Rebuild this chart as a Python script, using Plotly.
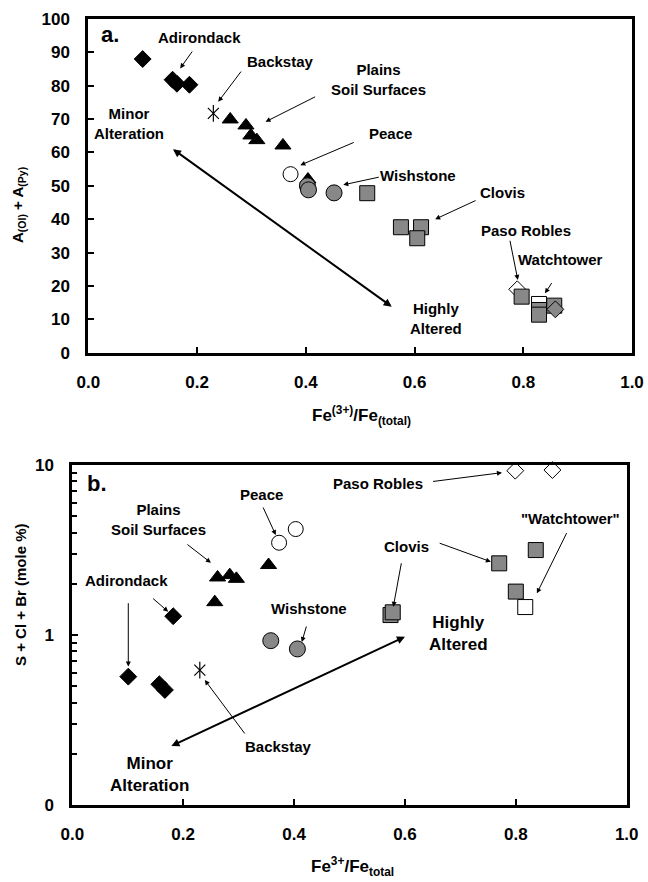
import plotly.graph_objects as go

FONT = "Liberation Sans, Arial, Helvetica, sans-serif"
GRAY = "#888888"

# ---------------- Panel a data: A(Ol)+A(Py) vs Fe3+/Fe_total ----------------
adk_a_x = [0.100, 0.155, 0.163, 0.186]
adk_a_y = [88.0, 81.8, 80.6, 80.3]
backstay_a_x = [0.230]
backstay_a_y = [71.7]
plains_a_x = [0.261, 0.290, 0.299, 0.310, 0.358, 0.404]
plains_a_y = [69.9, 68.1, 65.1, 63.7, 62.1, 51.9]
peace_a_x = [0.372]
peace_a_y = [53.5]
wish_a_x = [0.403, 0.405, 0.452]
wish_a_y = [50.0, 48.8, 47.9]
clovis_a_x = [0.513, 0.575, 0.612, 0.605]
clovis_a_y = [47.8, 37.6, 37.6, 34.3]
paso_a_x = [0.789]
paso_a_y = [19.0]
wt_white_a_x = [0.829]
wt_white_a_y = [14.6]
wt_gray_a_x = [0.797, 0.829, 0.829, 0.857]
wt_gray_a_y = [16.8, 12.8, 11.4, 14.1]
wt_dia_a_x = [0.859]
wt_dia_a_y = [13.0]

# ---------------- Panel b data: S+Cl+Br vs Fe3+/Fe_total ----------------
adk_b_x = [0.101, 0.157, 0.167, 0.182]
adk_b_y = [0.569, 0.513, 0.475, 1.29]
backstay_b_x = [0.230]
backstay_b_y = [0.622]
plains_b_x = [0.257, 0.262, 0.284, 0.296, 0.354]
plains_b_y = [1.56, 2.18, 2.25, 2.14, 2.58]
peace_b_x = [0.373, 0.403]
peace_b_y = [3.49, 4.20]
wish_b_x = [0.358, 0.406]
wish_b_y = [0.926, 0.828]
clovis_b_x = [0.574, 0.578, 0.770, 0.800, 0.836]
clovis_b_y = [1.31, 1.36, 2.64, 1.80, 3.16]
wt_white_b_x = [0.817]
wt_white_b_y = [1.46]
paso_b_x = [0.799, 0.866]
paso_b_y = [9.26, 9.34]

x_ticks = [0.0, 0.2, 0.4, 0.6, 0.8, 1.0]
ya_ticks = [0, 10, 20, 30, 40, 50, 60, 70, 80, 90, 100]
yb_ticks = [0.1, 1, 10]
yb_ticktext = ["0", "1", "10"]
yb_minor = [0.2, 0.3, 0.4, 0.5, 0.6, 0.7, 0.8, 0.9, 2, 3, 4, 5, 6, 7, 8, 9]

fig = go.Figure()


def add(x, y, panel, symbol, size, fill, lw=1.0, lc="black", clip=True):
    xa, ya = ("x", "y") if panel == "a" else ("x2", "y2")
    fig.add_trace(go.Scatter(
        x=x, y=y, xaxis=xa, yaxis=ya, mode="markers", cliponaxis=clip,
        marker=dict(symbol=symbol, size=size, color=fill,
                    line=dict(color=lc, width=lw)),
        showlegend=False, hoverinfo="skip"))


# panel a marks
add(adk_a_x, adk_a_y, "a", "diamond", 13, "black")
add(backstay_a_x, backstay_a_y, "a", "x-thin-open", 11, "black", 1.2)
add(backstay_a_x, backstay_a_y, "a", "line-ns-open", 12, "black", 1.2)
add(plains_a_x, plains_a_y, "a", "triangle-up", 14, "black")
add(peace_a_x, peace_a_y, "a", "circle", 15, "white")
add(wish_a_x, wish_a_y, "a", "circle", 16, GRAY)
add(clovis_a_x, clovis_a_y, "a", "square", 15, GRAY)
add(paso_a_x, paso_a_y, "a", "diamond", 13, "white")
add(wt_white_a_x, wt_white_a_y, "a", "square", 15, "white")
add(wt_gray_a_x, wt_gray_a_y, "a", "square", 15, GRAY)
add(wt_dia_a_x, wt_dia_a_y, "a", "diamond", 13, GRAY)

# panel b marks
add(adk_b_x, adk_b_y, "b", "diamond", 13, "black")
add(backstay_b_x, backstay_b_y, "b", "x-thin-open", 11, "black", 1.2)
add(backstay_b_x, backstay_b_y, "b", "line-ns-open", 12, "black", 1.2)
add(plains_b_x, plains_b_y, "b", "triangle-up", 14, "black")
add(peace_b_x, peace_b_y, "b", "circle", 15, "white")
add(wish_b_x, wish_b_y, "b", "circle", 16, GRAY)
add(clovis_b_x, clovis_b_y, "b", "square", 15, GRAY)
add(wt_white_b_x, wt_white_b_y, "b", "square", 15, "white")
add(paso_b_x, paso_b_y, "b", "diamond", 13, "white", clip=False)

tickfont = dict(family=FONT, size=17, color="black", weight="bold")
axis_common = dict(showline=True, mirror=True, linecolor="black", linewidth=3,
                   ticks="inside", ticklen=6, tickwidth=2, tickcolor="black",
                   showgrid=False, zeroline=False, tickfont=tickfont,
                   ticklabelstandoff=12, automargin=False)

fig.update_layout(
    width=648, height=882, autosize=False,
    margin=dict(l=0, r=0, t=0, b=0),
    paper_bgcolor="white", plot_bgcolor="white",
    showlegend=False,
    xaxis=dict(domain=[88.3 / 648, 632 / 648], range=[0, 1], tickvals=x_ticks,
               tickformat=".1f", anchor="y", **axis_common),
    yaxis=dict(domain=[1 - 352.7 / 882, 1 - 19 / 882], range=[0, 100],
               tickvals=ya_ticks, anchor="x", **axis_common),
    xaxis2=dict(domain=[72.3 / 648, 626.7 / 648], range=[0, 1], tickvals=x_ticks,
                tickformat=".1f", anchor="y2", **axis_common),
    yaxis2=dict(domain=[1 - 805 / 882, 1 - 465 / 882], type="log", range=[-1, 1],
                tickvals=yb_ticks, ticktext=yb_ticktext, anchor="x2",
                minor=dict(tickvals=yb_minor, ticks="inside", ticklen=5,
                           tickwidth=2, tickcolor="black"),
                **axis_common),
)

ann = []


def label(text, x, y, panel, size=15, xanchor="center"):
    xr, yr = ("x", "y") if panel == "a" else ("x2", "y2")
    ann.append(dict(text=text, x=x, y=y, xref=xr, yref=yr, showarrow=False,
                    xanchor=xanchor, yanchor="middle",
                    font=dict(family=FONT, size=size, color="black", weight="bold")))


def arrow(x0, y0, x1, y1, panel, width=1.0, both=False, size=1.0):
    # tail (x0, y0) -> tip (x1, y1), in axis coordinates (log10 for log axis)
    xr, yr = ("x", "y") if panel == "a" else ("x2", "y2")
    ann.append(dict(text="", x=x1, y=y1, ax=x0, ay=y0, xref=xr, yref=yr,
                    axref=xr, ayref=yr, showarrow=True, arrowhead=2,
                    startarrowhead=2, arrowsize=size, startarrowsize=size,
                    arrowwidth=width, arrowcolor="black",
                    arrowside="end+start" if both else "end",
                    standoff=0, startstandoff=0))


# panel a labels & arrows
label("a.", 0.02, 95.3, "a", size=22, xanchor="left")
label("Adirondack", 0.205, 94.5, "a")
arrow(0.193, 90.7, 0.169, 85.2, "a")
label("Backstay", 0.353, 87.4, "a")
arrow(0.283, 84.7, 0.239, 75.2, "a")
label("Plains<br>Soil Surfaces", 0.533, 82.0, "a")
arrow(0.420, 76.9, 0.326, 69.2, "a")
label("Minor<br>Alteration", 0.075, 68.6, "a")
arrow(0.153, 61.3, 0.558, 13.8, "a", width=2, both=True, size=0.8)
label("Peace", 0.555, 65.8, "a")
arrow(0.491, 63.2, 0.390, 56.2, "a")
label("Wishstone", 0.607, 53.0, "a")
arrow(0.537, 52.7, 0.469, 50.3, "a")
label("Clovis", 0.761, 47.9, "a")
arrow(0.715, 45.8, 0.638, 40.0, "a")
label("Paso Robles", 0.805, 36.6, "a")
arrow(0.775, 34.0, 0.790, 21.8, "a")
label("Watchtower", 0.868, 27.8, "a")
arrow(0.854, 21.3, 0.840, 17.8, "a")
label("Highly<br>Altered", 0.640, 10.2, "a")

# panel b labels & arrows (y in log10 units)
label("b.", 0.023, 0.894, "b", size=22, xanchor="left")
label("Paso Robles", 0.552, 0.892, "b")
arrow(0.648, 0.902, 0.775, 0.955, "b")
label("Peace", 0.342, 0.824, "b")
arrow(0.343, 0.759, 0.367, 0.588, "b")
label("Plains<br>Soil Surfaces", 0.155, 0.679, "b")
arrow(0.205, 0.539, 0.250, 0.425, "b")
label("Adirondack", 0.098, 0.318, "b")
arrow(0.143, 0.222, 0.173, 0.137, "b")
arrow(0.101, 0.196, 0.101, -0.186, "b")
label("Wishstone", 0.427, 0.157, "b")
arrow(0.423, 0.059, 0.414, -0.041, "b")
label("Clovis", 0.602, 0.519, "b")
arrow(0.660, 0.543, 0.755, 0.431, "b")
arrow(0.594, 0.431, 0.579, 0.166, "b")
label("\"Watchtower\"", 0.898, 0.686, "b")
arrow(0.893, 0.608, 0.838, 0.245, "b")
label("Highly<br>Altered", 0.696, 0.010, "b", size=17)
arrow(0.176, -0.657, 0.600, -0.010, "b", width=2, both=True, size=0.8)
label("Backstay", 0.372, -0.653, "b")
arrow(0.313, -0.588, 0.239, -0.265, "b")
label("Minor<br>Alteration", 0.140, -0.822, "b", size=17)

# axis titles
title_font = dict(family=FONT, size=17, color="black", weight="bold")
ann.append(dict(text="Fe<sup>(3+)</sup>/Fe<sub>(total)</sub>", x=361 / 648,
                y=1 - 415 / 882, xref="paper", yref="paper", showarrow=False,
                xanchor="center", yanchor="middle", font=title_font))
ann.append(dict(text="A<sub>(Ol)</sub> + A<sub>(Py)</sub>", x=18 / 648,
                y=1 - 205 / 882, xref="paper", yref="paper", showarrow=False,
                textangle=-90, xanchor="center", yanchor="middle",
                font=dict(family=FONT, size=15, color="black", weight="bold")))
ann.append(dict(text="Fe<sup>3+</sup>/Fe<sub>total</sub>", x=352 / 648,
                y=1 - 866 / 882, xref="paper", yref="paper", showarrow=False,
                xanchor="center", yanchor="middle", font=title_font))
ann.append(dict(text="S + Cl + Br (mole %)", x=20 / 648, y=1 - 595 / 882,
                xref="paper", yref="paper", showarrow=False, textangle=-90,
                xanchor="center", yanchor="middle",
                font=dict(family=FONT, size=15, color="black", weight="bold")))

fig.update_layout(annotations=ann)
fig.write_html("out.html",
               config={"displayModeBar": False},
               post_script="document.body.style.margin='0';"
                           "document.body.style.overflow='hidden';")
